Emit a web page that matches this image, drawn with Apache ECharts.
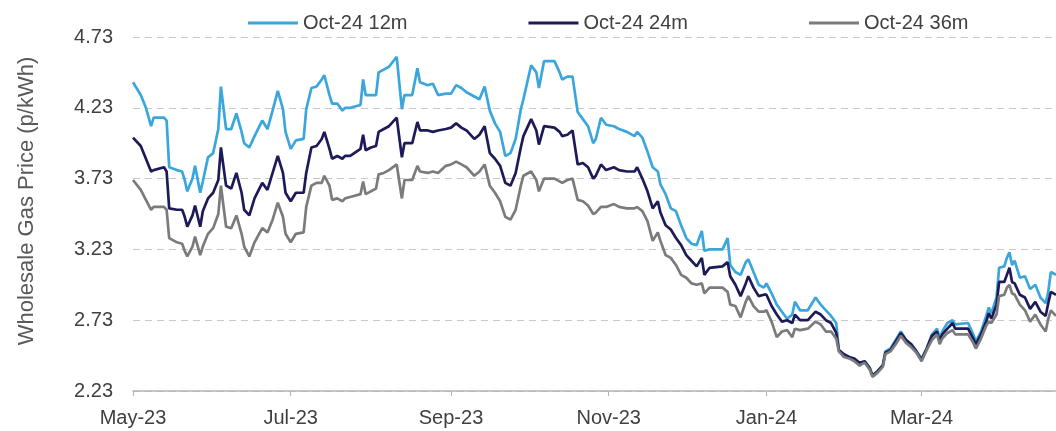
<!DOCTYPE html>
<html>
<head>
<meta charset="utf-8">
<title>Wholesale gas price</title>
<script src="https://cdn.jsdelivr.net/npm/echarts@6/dist/echarts.min.js"></script>
<style>
  html, body { margin: 0; padding: 0; background: #fff; }
  #gasChart { width: 1056px; height: 431px; }
</style>
</head>
<body>
<div id="gasChart"></div>
<script>
var obsDates = [
  "2023-05-01","2023-05-04","2023-05-06","2023-05-08","2023-05-09","2023-05-13","2023-05-14","2023-05-15","2023-05-18","2023-05-20",
  "2023-05-21","2023-05-22","2023-05-24","2023-05-25","2023-05-27","2023-05-28","2023-05-30","2023-06-01","2023-06-03","2023-06-04",
  "2023-06-06","2023-06-08","2023-06-10","2023-06-12","2023-06-13","2023-06-15","2023-06-17","2023-06-20","2023-06-22","2023-06-24",
  "2023-06-26","2023-06-28","2023-06-29","2023-07-01","2023-07-03","2023-07-06","2023-07-07","2023-07-09","2023-07-11","2023-07-13",
  "2023-07-14","2023-07-16","2023-07-17","2023-07-19","2023-07-21","2023-07-22","2023-07-24","2023-07-28","2023-07-29","2023-07-30",
  "2023-08-01","2023-08-03","2023-08-04","2023-08-06","2023-08-08","2023-08-11","2023-08-13","2023-08-14","2023-08-17","2023-08-19",
  "2023-08-20","2023-08-23","2023-08-25","2023-08-27","2023-08-30","2023-09-01","2023-09-03","2023-09-05","2023-09-07","2023-09-10",
  "2023-09-12","2023-09-14","2023-09-16","2023-09-18","2023-09-20","2023-09-22","2023-09-24","2023-09-26","2023-09-28","2023-09-29",
  "2023-10-02","2023-10-04","2023-10-05","2023-10-07","2023-10-11","2023-10-13","2023-10-14","2023-10-16","2023-10-18","2023-10-20",
  "2023-10-22","2023-10-24","2023-10-26","2023-10-27",
  "2023-10-29","2023-10-31","2023-11-03","2023-11-05","2023-11-08","2023-11-11","2023-11-12","2023-11-14","2023-11-16","2023-11-18",
  "2023-11-20","2023-11-21","2023-11-23","2023-11-25","2023-11-27","2023-11-29","2023-12-01","2023-12-03","2023-12-05","2023-12-07",
  "2023-12-08","2023-12-10","2023-12-15","2023-12-17","2023-12-18","2023-12-20","2023-12-22","2023-12-24","2023-12-25","2023-12-27",
  "2023-12-29","2023-12-31","2024-01-01","2024-01-03","2024-01-05","2024-01-07","2024-01-09","2024-01-11","2024-01-12","2024-01-14",
  "2024-01-17","2024-01-20","2024-01-22","2024-01-24","2024-01-26","2024-01-28","2024-01-29","2024-01-31","2024-02-02","2024-02-04",
  "2024-02-06","2024-02-08","2024-02-10","2024-02-11","2024-02-13","2024-02-15","2024-02-16","2024-02-18","2024-02-20","2024-02-22",
  "2024-02-24","2024-02-26","2024-02-28","2024-03-01","2024-03-03","2024-03-05","2024-03-07","2024-03-08","2024-03-09","2024-03-11",
  "2024-03-13","2024-03-14","2024-03-19","2024-03-21","2024-03-22","2024-03-24","2024-03-26","2024-03-27","2024-03-28","2024-03-30",
  "2024-03-31","2024-04-02","2024-04-03","2024-04-04","2024-04-05","2024-04-06","2024-04-08","2024-04-10","2024-04-12","2024-04-14",
  "2024-04-16","2024-04-18","2024-04-19","2024-04-20","2024-04-22"
];

// Oct-24 12m
var price12m = [
  4.41,4.32,4.23,4.10,4.16,4.16,4.14,3.81,3.79,3.78,
  3.72,3.64,3.73,3.82,3.63,3.71,3.88,3.91,4.08,4.38,
  4.08,4.08,4.19,4.06,3.98,3.95,4.03,4.14,4.08,4.21,
  4.35,4.22,4.06,3.94,4.00,4.01,4.22,4.37,4.38,4.43,
  4.46,4.32,4.26,4.26,4.21,4.23,4.23,4.25,4.43,4.32,
  4.32,4.32,4.48,4.50,4.52,4.59,4.22,4.32,4.32,4.51,
  4.41,4.39,4.40,4.32,4.33,4.33,4.39,4.37,4.34,4.31,
  4.29,4.38,4.21,4.12,4.06,3.89,3.91,4.01,4.22,4.29,
  4.53,4.48,4.37,4.56,4.56,4.48,4.43,4.45,4.45,4.20,
  4.15,4.10,3.98,4.01,
  4.16,4.11,4.10,4.08,4.06,4.03,4.06,4.02,3.92,3.81,
  3.78,3.69,3.62,3.52,3.50,3.40,3.31,3.27,3.26,3.36,
  3.22,3.23,3.23,3.31,3.12,3.07,3.05,3.14,3.16,3.07,
  2.98,2.96,2.99,2.92,2.84,2.79,2.74,2.77,2.86,2.80,
  2.80,2.89,2.84,2.80,2.76,2.71,2.52,2.48,2.47,2.45,
  2.41,2.44,2.39,2.34,2.37,2.41,2.51,2.53,2.59,2.65,
  2.59,2.56,2.51,2.46,2.53,2.63,2.67,2.60,2.65,2.71,
  2.73,2.70,2.71,2.63,2.58,2.65,2.76,2.82,2.78,2.89,
  3.10,3.11,3.17,3.21,3.12,3.15,3.03,3.04,2.95,2.98,
  2.89,2.85,2.93,3.07,3.05
];

// Oct-24 24m
var price24m = [
  4.02,3.96,3.87,3.78,3.79,3.81,3.78,3.52,3.51,3.51,
  3.46,3.39,3.47,3.54,3.39,3.50,3.59,3.63,3.72,3.95,
  3.68,3.66,3.77,3.63,3.51,3.47,3.59,3.70,3.65,3.77,
  3.89,3.77,3.63,3.57,3.63,3.63,3.77,3.95,3.96,4.01,
  4.06,3.94,3.87,3.89,3.87,3.89,3.89,3.94,4.04,3.93,
  3.95,3.96,4.06,4.08,4.10,4.16,3.88,3.98,3.98,4.13,
  4.07,4.07,4.06,4.07,4.08,4.09,4.12,4.09,4.07,4.01,
  4.04,4.10,3.91,3.87,3.82,3.70,3.68,3.77,3.95,4.03,
  4.15,4.07,3.97,4.10,4.09,4.06,4.03,4.04,4.07,3.83,
  3.84,3.81,3.73,3.75,
  3.83,3.79,3.81,3.79,3.78,3.78,3.81,3.73,3.64,3.52,
  3.57,3.49,3.40,3.37,3.31,3.26,3.19,3.15,3.11,3.17,
  3.05,3.10,3.11,3.14,3.04,2.98,2.90,2.99,3.04,2.96,
  2.90,2.91,2.91,2.83,2.77,2.72,2.73,2.71,2.77,2.73,
  2.73,2.79,2.77,2.73,2.71,2.64,2.52,2.49,2.47,2.46,
  2.43,2.44,2.39,2.34,2.37,2.41,2.50,2.52,2.58,2.64,
  2.59,2.56,2.51,2.45,2.53,2.62,2.65,2.58,2.63,2.67,
  2.71,2.67,2.67,2.60,2.56,2.63,2.72,2.78,2.74,2.84,
  3.00,3.00,3.05,3.10,3.00,2.99,2.91,2.89,2.81,2.86,
  2.79,2.76,2.85,2.93,2.91
];

// Oct-24 36m
var price36m = [
  3.72,3.65,3.58,3.51,3.53,3.53,3.51,3.31,3.28,3.27,
  3.22,3.18,3.25,3.32,3.19,3.25,3.34,3.38,3.48,3.68,
  3.39,3.38,3.47,3.34,3.25,3.18,3.28,3.38,3.35,3.44,
  3.56,3.46,3.34,3.28,3.34,3.35,3.53,3.68,3.70,3.70,
  3.75,3.68,3.58,3.59,3.57,3.59,3.60,3.62,3.71,3.62,
  3.64,3.66,3.76,3.77,3.79,3.83,3.59,3.72,3.72,3.82,
  3.78,3.77,3.78,3.77,3.82,3.83,3.85,3.83,3.81,3.75,
  3.78,3.83,3.68,3.63,3.57,3.46,3.44,3.51,3.68,3.75,
  3.78,3.72,3.64,3.73,3.73,3.71,3.70,3.72,3.73,3.58,
  3.57,3.54,3.48,3.49,
  3.53,3.53,3.55,3.53,3.52,3.52,3.53,3.50,3.43,3.29,
  3.35,3.29,3.19,3.17,3.12,3.05,3.03,2.99,2.98,2.99,
  2.92,2.96,2.96,2.93,2.84,2.83,2.75,2.86,2.90,2.83,
  2.79,2.79,2.80,2.72,2.61,2.65,2.66,2.61,2.67,2.66,
  2.67,2.72,2.70,2.65,2.65,2.60,2.51,2.47,2.46,2.44,
  2.41,2.43,2.38,2.33,2.36,2.40,2.49,2.51,2.56,2.62,
  2.57,2.54,2.50,2.44,2.52,2.59,2.63,2.56,2.60,2.64,
  2.66,2.63,2.63,2.57,2.53,2.60,2.69,2.72,2.71,2.77,
  2.90,2.91,2.96,2.98,2.92,2.91,2.84,2.80,2.72,2.77,
  2.70,2.65,2.74,2.80,2.76
];

var seriesNames = ["Oct-24 12m", "Oct-24 24m", "Oct-24 36m"];
var seriesColors = ["#3ba6dc", "#1d1b57", "#7b7b7b"];
var monthNames = ["Jan","Feb","Mar","Apr","May","Jun","Jul","Aug","Sep","Oct","Nov","Dec"];

// every calendar day on the axis: 1 May 2023 .. 22 Apr 2024
var dayList = [];
var start = Date.UTC(2023, 4, 1);
for (var i = 0; i < 358; i++) {
  dayList.push(new Date(start + i * 86400000).toISOString().slice(0, 10));
}

// label + tick only on the 1st of every other month (May, Jul, Sep...)
function isLabelDay(idx, val) {
  return val.slice(8) === "01" && (+val.slice(5, 7)) % 2 === 1;
}

function pairs(vals) {
  return obsDates.map(function (d, i) { return [d, vals[i]]; });
}

var gasChart = echarts.init(document.getElementById("gasChart"));
var fontName = "Liberation Sans, Arial, sans-serif";

var option = {
  backgroundColor: "#fff",
  animation: false,
  grid: {
    left: 133,
    right: 0,
    top: 37,
    bottom: 40,
    outerBoundsMode: "none"
  },
  legend: {
    left: 243,
    top: 8,
    icon: "rect",
    itemWidth: 50,
    itemHeight: 3,
    itemGap: 121,
    textStyle: { color: "#404040", fontSize: 20, fontFamily: fontName },
    data: seriesNames
  },
  xAxis: {
    type: "category",
    boundaryGap: false,
    data: dayList,
    axisLine: { lineStyle: { color: "#b4b4b4", width: 1.5 } },
    axisTick: { interval: isLabelDay, length: 5, lineStyle: { color: "#b4b4b4" } },
    axisLabel: {
      interval: isLabelDay,
      margin: 17,
      color: "#404040",
      fontSize: 20,
      fontFamily: fontName,
      formatter: function (val) {
        return monthNames[+val.slice(5, 7) - 1] + "-" + val.slice(2, 4);
      }
    },
    splitLine: { show: false }
  },
  yAxis: {
    type: "value",
    min: 2.23,
    max: 4.73,
    interval: 0.5,
    name: "Wholesale Gas Price (p/kWh)",
    nameLocation: "middle",
    nameGap: 95,
    nameTextStyle: { color: "#595959", fontSize: 22, fontFamily: fontName, padding: [0, 0, 0, 26] },
    axisLine: { show: false },
    axisTick: { show: false },
    axisLabel: {
      margin: 20,
      color: "#404040",
      fontSize: 20,
      fontFamily: fontName,
      formatter: function (v) { return v.toFixed(2); }
    },
    splitLine: { lineStyle: { color: "#c8c8c8", type: [7, 5], width: 1 } }
  },
  series: [
    { name: seriesNames[0], type: "line", symbol: "none", data: pairs(price12m),
      itemStyle: { color: seriesColors[0] }, lineStyle: { color: seriesColors[0], width: 2.7 } },
    { name: seriesNames[1], type: "line", symbol: "none", data: pairs(price24m),
      itemStyle: { color: seriesColors[1] }, lineStyle: { color: seriesColors[1], width: 2.7 } },
    { name: seriesNames[2], type: "line", symbol: "none", data: pairs(price36m),
      itemStyle: { color: seriesColors[2] }, lineStyle: { color: seriesColors[2], width: 2.7 } }
  ]
};

gasChart.setOption(option);
</script>
</body>
</html>
